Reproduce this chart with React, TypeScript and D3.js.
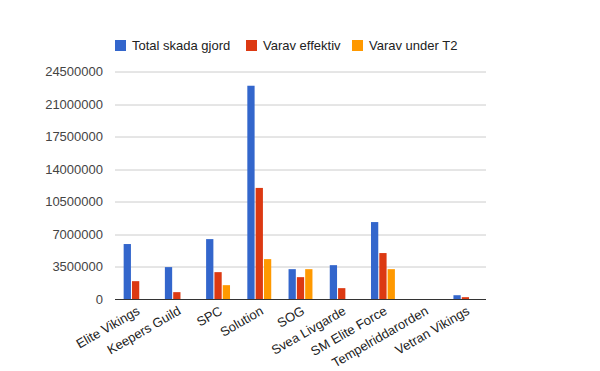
import { useEffect, useRef } from 'react'
import * as d3 from 'd3'

const WIDTH = 600
const HEIGHT = 371
const MARGIN = { top: 71.5, right: 114, bottom: 71.5, left: 115 }

const CATEGORIES = [
  'Elite Vikings', 'Keepers Guild', 'SPC', 'Solution', 'SOG',
  'Svea Livgarde', 'SM Elite Force', 'Tempelriddarorden', 'Vetran Vikings',
]
const TOTAL = [5960000, 3480000, 6490000, 22970000, 3260000, 3690000, 8320000, 0, 460000]
const EFFEKTIV = [1970000, 790000, 2940000, 11990000, 2400000, 1220000, 4990000, 0, 250000]
const UNDER_T2 = [0, 0, 1540000, 4340000, 3260000, 0, 3260000, 0, 0]
const Y_TICKS = [0, 3500000, 7000000, 10500000, 14000000, 17500000, 21000000, 24500000]

const SERIES = [
  { label: 'Total skada gjord', color: '#3366cc', values: TOTAL, legendX: 115 },
  { label: 'Varav effektiv', color: '#dc3912', values: EFFEKTIV, legendX: 246 },
  { label: 'Varav under T2', color: '#ff9900', values: UNDER_T2, legendX: 352 },
]

const FONT = 'Arial, "Liberation Sans", sans-serif'

export default function App() {
  const svgRef = useRef<SVGSVGElement>(null)

  useEffect(() => {
    document.body.style.margin = '0'
    const svg = d3.select(svgRef.current!)
    svg.selectAll('*').remove()

    const innerWidth = WIDTH - MARGIN.left - MARGIN.right
    const innerHeight = HEIGHT - MARGIN.top - MARGIN.bottom

    svg.append('rect').attr('width', WIDTH).attr('height', HEIGHT).attr('fill', '#fff')

    const g = svg.append('g').attr('transform', `translate(${MARGIN.left},${MARGIN.top})`)

    // scales
    const x0 = d3.scaleBand(CATEGORIES, [0, innerWidth]).paddingInner(0.42).paddingOuter(0.21)
    const x1 = d3.scaleBand(SERIES.map(s => s.label), [0, x0.bandwidth()]).paddingInner(0.125)
    const y = d3.scaleLinear([0, 24500000], [innerHeight, 0])

    // grid
    g.append('g')
      .selectAll('line')
      .data(Y_TICKS.slice(1))
      .join('line')
      .attr('x1', 0).attr('x2', innerWidth)
      .attr('y1', d => Math.round(y(d)) + 0.5).attr('y2', d => Math.round(y(d)) + 0.5)
      .attr('stroke', '#cccccc')

    // y labels
    g.append('g')
      .selectAll('text')
      .data(Y_TICKS)
      .join('text')
      .attr('x', -12).attr('y', d => y(d) + 4.5)
      .attr('text-anchor', 'end')
      .attr('font-family', FONT).attr('font-size', 13).attr('fill', '#444')
      .text(d => String(d))

    // bars
    SERIES.forEach(s => {
      g.append('g')
        .selectAll('rect')
        .data(s.values)
        .join('rect')
        .attr('x', (_, i) => x0(CATEGORIES[i])! + x1(s.label)!)
        .attr('width', x1.bandwidth())
        .attr('y', d => y(d))
        .attr('height', d => innerHeight - y(d))
        .attr('fill', s.color)
    })

    // baseline
    g.append('line')
      .attr('x1', 0).attr('x2', innerWidth)
      .attr('y1', innerHeight).attr('y2', innerHeight)
      .attr('stroke', '#333').attr('stroke-width', 1)

    // x labels
    g.append('g')
      .selectAll('text')
      .data(CATEGORIES)
      .join('text')
      .attr('transform', d => `translate(${x0(d)! + x0.bandwidth() / 2 + 5},${innerHeight + 14}) rotate(-30)`)
      .attr('text-anchor', 'end')
      .attr('font-family', FONT).attr('font-size', 13).attr('fill', '#222')
      .text(d => d)

    // legend
    SERIES.forEach(s => {
      svg.append('rect')
        .attr('x', s.legendX).attr('y', 40).attr('width', 11).attr('height', 11)
        .attr('fill', s.color)
      svg.append('text')
        .attr('x', s.legendX + 17).attr('y', 50)
        .attr('font-family', FONT).attr('font-size', 13).attr('fill', '#222')
        .text(s.label)
    })
  }, [])

  return <svg ref={svgRef} width={WIDTH} height={HEIGHT} style={{ display: 'block' }} />
}
